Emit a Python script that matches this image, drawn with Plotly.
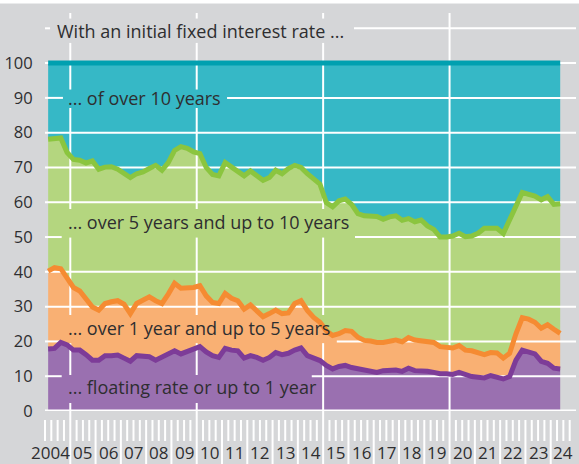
import plotly.graph_objects as go

# ---------------- data ----------------
quarters = [2004.125 + 0.25 * i for i in range(82)]

# upper edge of each band (cumulative share of new loans, %)
upto_1y = [17.8, 18.0, 19.7, 19.0, 17.5, 17.5, 16.2, 14.6, 14.6, 15.9, 15.9, 16.1, 15.2, 14.3, 15.9,
           15.9, 15.6, 14.6, 15.6, 16.4, 17.3, 16.4, 17.1, 17.8, 18.5, 17.0,
           15.9, 15.4, 18.0, 17.5, 17.3, 15.2, 15.9, 15.4, 14.6, 15.4, 16.8, 16.2, 16.6, 17.5,
           18.1, 15.9, 15.2, 14.5, 13.1, 12.1, 12.8, 13.1, 12.5, 12.1, 11.8, 11.6, 11.1, 11.6,
           11.6, 11.8, 11.4, 12.3, 11.6, 11.6, 11.4, 11.1, 10.7, 10.7, 10.5, 11.1, 10.4, 9.9,
           9.7, 9.5, 10.2, 9.7, 9.2, 9.9, 14.6, 17.5, 17.0, 16.4, 14.3, 13.7, 12.3, 12.1]
upto_5y = [40.2, 41.2, 40.9, 38.4, 35.5, 34.5, 32.1, 29.9, 29.0, 30.9, 31.4, 31.7, 30.7, 28.0, 30.9,
           32.0, 32.8, 31.7, 30.9, 33.6, 36.7, 35.3, 35.3, 35.5, 36.0, 33.1,
           31.2, 30.9, 33.8, 32.4, 31.7, 29.3, 30.5, 28.6, 27.1, 28.0, 29.0, 28.0, 28.2, 30.9,
           31.7, 28.9, 26.9, 25.5, 23.1, 21.7, 22.2, 23.1, 22.9, 21.2, 20.3, 20.1, 19.7, 19.7,
           20.2, 20.4, 19.9, 21.1, 20.4, 20.2, 20.2, 19.7, 18.5, 18.3, 18.1, 18.8, 17.5, 17.3,
           16.7, 16.2, 16.8, 16.7, 15.2, 16.6, 22.2, 26.8, 26.4, 25.5, 23.8, 24.8, 23.5, 22.3]
upto_10y = [78.1, 78.3, 78.5, 74.3, 72.3, 72.1, 71.3, 71.9, 69.5, 70.1, 70.2, 69.5, 68.5, 67.1, 68.2,
            68.7, 69.7, 70.6, 69.2, 71.4, 74.9, 76.0, 75.5, 74.5, 74.0, 70.0,
            68.0, 67.6, 71.4, 70.0, 68.8, 67.6, 69.0, 67.8, 66.3, 67.1, 69.2, 68.2, 69.7, 70.6,
            70.0, 68.2, 66.6, 65.2, 59.9, 58.7, 60.4, 60.9, 59.4, 56.7, 56.1, 56.1, 55.9, 55.1,
            55.8, 56.1, 54.8, 55.3, 54.4, 54.9, 53.2, 52.2, 50.0, 50.0, 50.3, 51.1, 50.1, 50.3,
            51.1, 52.5, 52.4, 52.5, 51.0, 55.4, 58.9, 62.8, 62.3, 61.8, 60.7, 61.6, 59.4, 59.6]
total = [100] * len(quarters)

year_labels = ["2004", "05", "06", "07", "08", "09", "10", "11", "12", "13", "14",
               "15", "16", "17", "18", "19", "20", "21", "22", "23", "24"]
y_tick_values = [0, 10, 20, 30, 40, 50, 60, 70, 80, 90, 100]

title_text = "With an initial fixed interest rate ..."
band_labels = ["... of over 10 years", "... over 5 years and up to 10 years",
               "... over 1 year and up to 5 years", "... floating rate or up to 1 year"]

# ---------------- styling ----------------
BG = "#d5d6d8"
TXT = "#2e2e30"
FONT = "Open Sans"
X0, X1 = 2004.0, 2025.0
YMAX = 114.4
MAJOR_YEARS = (2005, 2010, 2015, 2020)

fills = ["#9a70b0", "#f9b073", "#b4d67f", "#36b8c6"]
lines = ["#7d3c98", "#f58b32", "#8bc53f", "#00a0b0"]
series = [upto_1y, upto_5y, upto_10y, total]

# label positions and the boxes they keep free of grid lines (x0, x1, y0, y1)
label_specs = [
    (title_text, 2004.475, 109.3, (2004.20, 2016.22, 105.8, 112.8)),
    (band_labels[0], 2004.92, 89.9, (2004.71, 2011.20, 87.1, 92.4)),
    (band_labels[1], 2004.92, 54.4, (2004.66, 2016.26, 49.85, 58.06)),
    (band_labels[2], 2004.92, 23.8, (2004.66, 2015.54, 19.5, 27.6)),
    (band_labels[3], 2004.92, 7.0, (2004.66, 2014.55, 2.3, 10.35)),
]


def segments(lo, hi, cuts):
    segs, cur = [], lo
    for a, b in sorted(cuts):
        if b <= cur or a >= hi:
            continue
        if a > cur:
            segs.append((cur, a))
        cur = max(cur, b)
    if cur < hi:
        segs.append((cur, hi))
    return segs


fig = go.Figure()

# filled bands
for i, (ys, fc) in enumerate(zip(series, fills)):
    fig.add_trace(go.Scatter(x=quarters, y=ys, mode="lines", line=dict(width=0, color=fc),
                             fill="tozeroy" if i == 0 else "tonexty", fillcolor=fc,
                             hoverinfo="skip", showlegend=False))

# white grid lines drawn over the fills, leaving room for labels
gx, gy = [], []
for v in range(10, 111, 10):
    cuts = [(b[0], b[1]) for _, _, _, b in label_specs if b[2] <= v <= b[3]]
    for a, b in segments(X0, X1, cuts):
        gx += [a, b, None]
        gy += [v, v, None]
for yr in MAJOR_YEARS:
    cuts = [(b[2], b[3]) for _, _, _, b in label_specs if b[0] <= yr <= b[1]]
    for a, b in segments(0, YMAX, cuts):
        gx += [yr, yr, None]
        gy += [a, b, None]
fig.add_trace(go.Scatter(x=gx, y=gy, mode="lines", line=dict(color="white", width=2),
                         hoverinfo="skip", showlegend=False))
# base line
fig.add_trace(go.Scatter(x=[X0, X1], y=[0, 0], mode="lines", line=dict(color="white", width=3),
                         hoverinfo="skip", showlegend=False))

# boundary lines
for ys, lc in zip(series, lines):
    fig.add_trace(go.Scatter(x=quarters, y=ys, mode="lines", line=dict(color=lc, width=5),
                             hoverinfo="skip", showlegend=False))

shapes = []
# white strip at the very top
shapes.append(dict(type="rect", xref="paper", yref="paper", x0=-0.1, x1=1.1, y0=1.0239, y1=1.04,
                   fillcolor="white", line=dict(width=0), layer="below"))
span = X1 - X0
# major year lines continuing below the axis
for yr in MAJOR_YEARS:
    xp = (yr - X0) / span
    shapes.append(dict(type="line", xref="paper", yref="paper", x0=xp, x1=xp, y0=0, y1=-0.135,
                       line=dict(color="white", width=2)))
# quarterly ticks (year starts run down between the labels)
for k in range(84):
    q = X0 + 0.25 * k
    if q in MAJOR_YEARS:
        continue
    xp = (q - X0) / span
    long_tick = (k % 4 == 0) and k > 0
    shapes.append(dict(type="line", xref="paper", yref="paper", x0=xp, x1=xp, y0=-0.0226,
                       y1=-0.135 if long_tick else -0.0754,
                       line=dict(color="white", width=2)))

annotations = []
for text, x, y, _ in label_specs:
    annotations.append(dict(text=text, x=x, y=y, xref="x", yref="y", xanchor="left", yanchor="middle",
                            showarrow=False, borderpad=0, borderwidth=0,
                            font=dict(family=FONT, size=18, color=TXT)))
for i, lab in enumerate(year_labels):
    yr = 2004 + i
    common = dict(text=lab, y=-0.104, xref="x", yref="paper", yanchor="middle", showarrow=False,
                  borderpad=0, borderwidth=0, font=dict(family=FONT, size=17, color=TXT))
    if i == 0:
        annotations.append(dict(x=yr + 0.98, xanchor="right", **common))
    else:
        annotations.append(dict(x=yr + 0.5, xanchor="center", **common))

fig.update_layout(
    width=579, height=464,
    margin=dict(l=45, r=3, t=13, b=53, autoexpand=False),
    paper_bgcolor=BG, plot_bgcolor=BG,
    shapes=shapes, annotations=annotations,
    xaxis=dict(range=[X0, X1], showgrid=False, zeroline=False, showticklabels=False,
               ticks="", showline=False, fixedrange=True, automargin=False),
    yaxis=dict(range=[0, YMAX], showgrid=False, zeroline=False, tickvals=y_tick_values,
               ticks="outside", ticklen=8, tickcolor="rgba(0,0,0,0)", showline=False,
               tickfont=dict(family=FONT, size=16.5, color=TXT), fixedrange=True,
               automargin=False),
    showlegend=False,
)

fig.write_html("out.html", config={"displayModeBar": False},
               post_script="document.body.style.margin='0';document.body.style.overflow='hidden';")
